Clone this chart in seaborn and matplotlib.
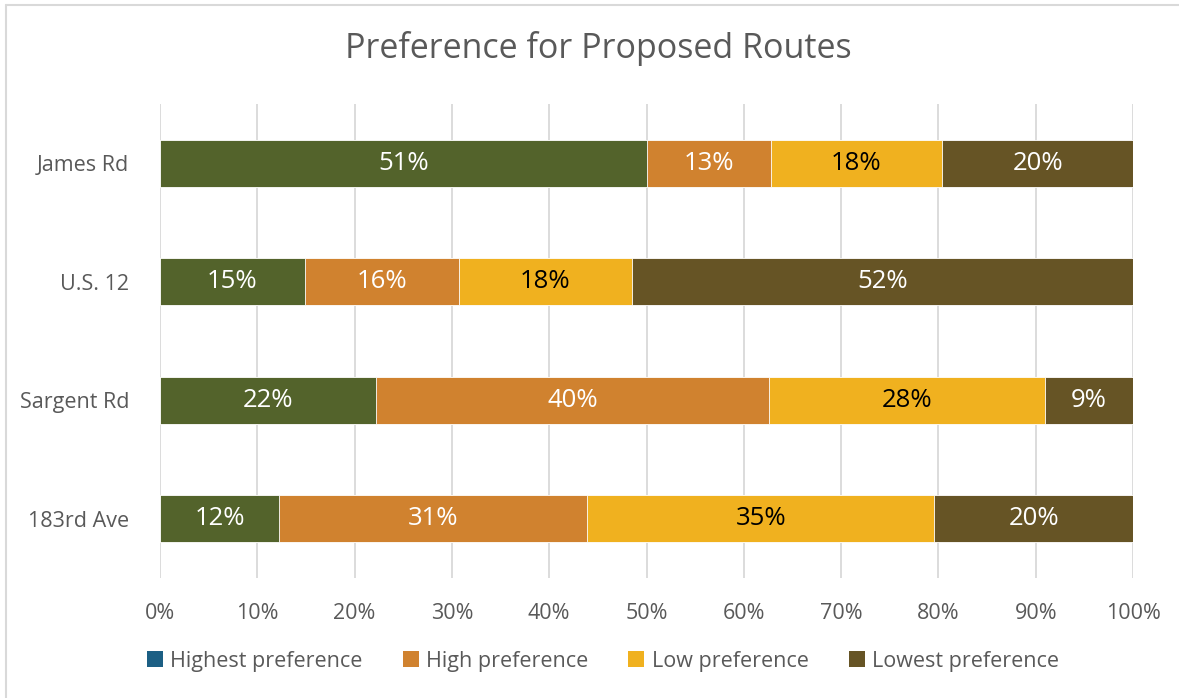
import matplotlib
matplotlib.use("Agg")
import matplotlib.pyplot as plt
import seaborn as sns
import pandas as pd
import numpy as np
from matplotlib.patches import Patch
from matplotlib.lines import Line2D

routes = ["James Rd", "U.S. 12", "Sargent Rd", "183rd Ave"]
series = ["Highest preference", "High preference", "Low preference", "Lowest preference"]
highest = [51, 15, 22, 12]
high = [13, 16, 40, 31]
low = [18, 18, 28, 35]
lowest = [20, 52, 9, 20]
xticks = [0, 10, 20, 30, 40, 50, 60, 70, 80, 90, 100]

bar_colors = ["#53632B", "#D0822F", "#F0B11F", "#665425"]
legend_colors = ["#1C5F84", "#D0822F", "#F0B11F", "#665425"]
label_colors = ["white", "white", "black", "white"]

sns.set_theme(style="white")
plt.rcParams["font.family"] = ["Open Sans", "DejaVu Sans"]

vals = np.array([highest, high, low, lowest], dtype=float)
pct = vals / vals.sum(axis=0) * 100
cum = np.cumsum(pct, axis=0)
starts = cum - pct

fig = plt.figure(figsize=(11.79, 6.98), dpi=100)
ax = fig.add_axes([160 / 1179, 1 - 578 / 698, (1133 - 160) / 1179, (578 - 104) / 698])

# draw from the last cumulative series back to the first
for i in range(len(series) - 1, -1, -1):
    df = pd.DataFrame({"route": routes, "end": cum[i]})
    sns.barplot(data=df, x="end", y="route", order=routes, color=bar_colors[i],
                orient="h", width=0.4, edgecolor="white", linewidth=0.6,
                saturation=1, ax=ax, zorder=2)

for i in range(len(series)):
    for j in range(len(routes)):
        ax.text((starts[i, j] + cum[i, j]) / 2, j, f"{int(vals[i, j])}%",
                ha="center", va="center", fontsize=18.5, color=label_colors[i], zorder=5)

ax.set_xlim(0, 100)
ax.set_ylim(3.5, -0.5)
ax.set_xticks(xticks)
ax.set_xticklabels([f"{t}%" for t in xticks])
ax.xaxis.grid(True, color="#D9D9D9", linewidth=1.3, zorder=0)
ax.set_axisbelow(True)
ax.set_xlabel("")
ax.set_ylabel("")
for s in ax.spines.values():
    s.set_visible(False)
ax.tick_params(axis="x", length=0, pad=18, labelsize=15.5, labelcolor="#595959")
ax.tick_params(axis="y", length=0, pad=22, labelsize=15.5, labelcolor="#595959")

fig.suptitle("Preference for Proposed Routes", x=598 / 1179, y=1 - 48 / 698,
             va="center", fontsize=24.5, color="#595959")

handles = [Patch(facecolor=c, edgecolor="none") for c in legend_colors]
fig.legend(handles, series, loc="center", bbox_to_anchor=(603 / 1179, 1 - 661 / 698),
           ncol=4, frameon=False, fontsize=15.5, labelcolor="#595959",
           handlelength=0.75, handleheight=0.75, handletextpad=0.35, columnspacing=1.85)

# chart-area border (top and left visible)
fig.add_artist(Line2D([6 / 1179, 1.0], [1 - 5 / 698, 1 - 5 / 698], transform=fig.transFigure,
                      color="#D9D9D9", linewidth=1.5))
fig.add_artist(Line2D([6 / 1179, 6 / 1179], [0.0, 1 - 5 / 698], transform=fig.transFigure,
                      color="#D9D9D9", linewidth=1.5))

fig.savefig("out.png", dpi=100, facecolor="white")
